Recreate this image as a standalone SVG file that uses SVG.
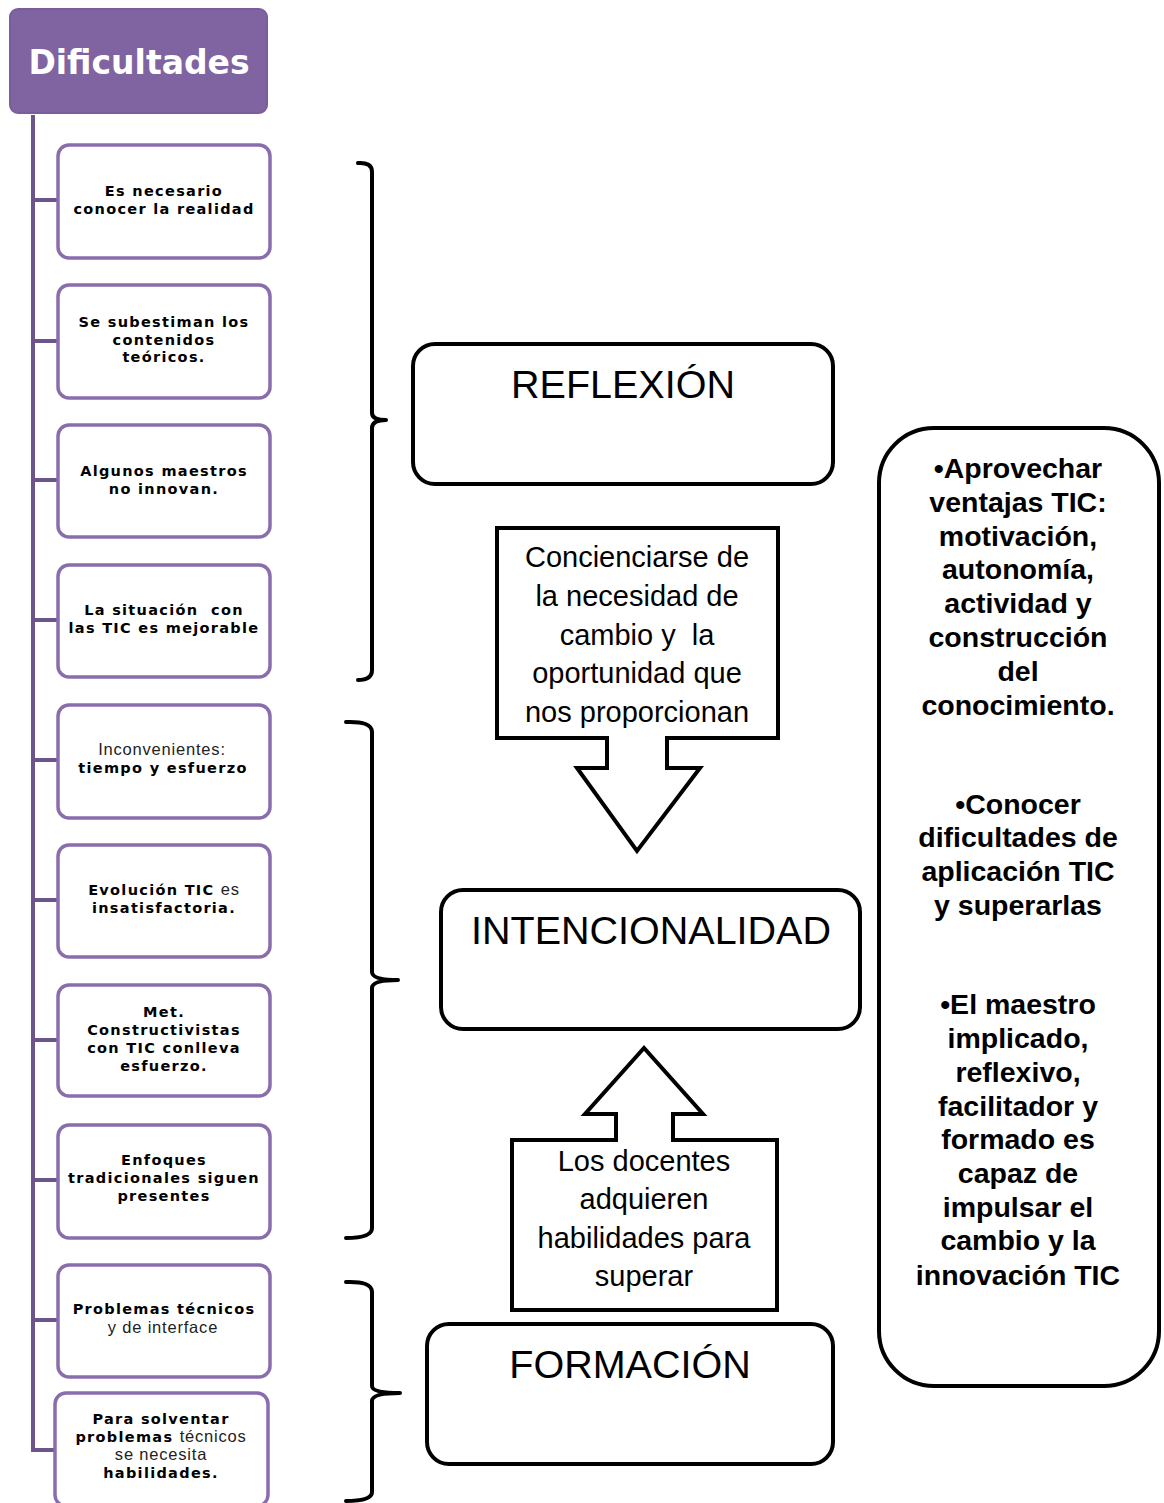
<svg xmlns="http://www.w3.org/2000/svg" width="1164" height="1503" viewBox="0 0 1164 1503">
  <style>
    .hdr { fill: #8064a2; stroke: #7a5e9c; stroke-width: 2; }
    .hdr-t { font-family: "DejaVu Sans", Verdana, sans-serif; font-weight: bold; font-size: 33px; fill: #ffffff; text-anchor: middle; }
    .item { fill: #ffffff; stroke: #8a6dad; stroke-width: 3.5; }
    .item-t { font-family: "DejaVu Sans", Verdana, sans-serif; font-weight: bold; font-size: 14.5px; letter-spacing: 1.3px; fill: #000000; text-anchor: middle; white-space: pre; }
    .thin { font-weight: normal; font-family: "Liberation Sans", Arial, sans-serif; font-size: 16.5px; letter-spacing: 0.8px; fill: #222222; }
    .tree { stroke: #6c5588; stroke-width: 4; fill: none; }
    .brace { stroke: #000000; stroke-width: 4; fill: none; stroke-linecap: round; stroke-linejoin: round; }
    .stage { fill: #ffffff; stroke: #000000; stroke-width: 4; }
    .stage-t { font-family: "Liberation Sans", Arial, sans-serif; font-size: 39.5px; fill: #000000; text-anchor: middle; }
    .call { fill: #ffffff; stroke: #000000; stroke-width: 4; stroke-linejoin: miter; }
    .call-t { font-family: "Liberation Sans", Arial, sans-serif; font-size: 29px; fill: #000000; text-anchor: middle; white-space: pre; }
    .side-t { font-family: "Liberation Sans", Arial, sans-serif; font-weight: bold; font-size: 28.5px; fill: #000000; text-anchor: middle; }
  </style>

  <!-- tree trunk and branches -->
  <g id="connectors">
    <path class="tree" d="M33,115 V1452"/>
    <path class="tree" d="M31,200 H58 M31,341 H58 M31,480 H58 M31,620 H58 M31,760 H58 M31,900 H58 M31,1040 H58 M31,1180 H58 M31,1320 H58 M31,1450 H56"/>
    <!-- braces grouping the difficulties -->
    <path class="brace" d="M358,163 Q372,162 372,172 V413 Q372,420 386,420 Q372,420 372,428 V670 Q372,680 358,680"/>
    <path class="brace" d="M346,722 Q372,721 372,732 V972 Q372,980 398,980 Q372,980 372,988 V1228 Q372,1238 346,1238"/>
    <path class="brace" d="M346,1282 Q372,1281 372,1292 V1386 Q372,1393 400,1393 Q372,1393 372,1401 V1492 Q372,1501 346,1501"/>
  </g>

  <!-- heading -->
  <g id="dificultades">
    <rect class="hdr" x="10" y="9" width="257" height="104" rx="8"/>
    <text class="hdr-t" x="139" y="74">Dificultades</text>
  </g>

  <!-- difficulty items -->
  <g id="item-1">
    <rect class="item" x="58" y="145" width="212" height="113" rx="11"/>
    <text class="item-t" x="164" y="196">Es necesario</text>
    <text class="item-t" x="164" y="214">conocer la realidad</text>
  </g>
  <g id="item-2">
    <rect class="item" x="58" y="285" width="212" height="113" rx="11"/>
    <text class="item-t" x="164" y="327">Se subestiman los</text>
    <text class="item-t" x="164" y="345">contenidos</text>
    <text class="item-t" x="164" y="362">teóricos.</text>
  </g>
  <g id="item-3">
    <rect class="item" x="58" y="425" width="212" height="112" rx="11"/>
    <text class="item-t" x="164" y="476">Algunos maestros</text>
    <text class="item-t" x="164" y="494">no innovan.</text>
  </g>
  <g id="item-4">
    <rect class="item" x="58" y="565" width="212" height="112" rx="11"/>
    <text class="item-t" x="164" y="615">La situación  con</text>
    <text class="item-t" x="164" y="633">las TIC es mejorable</text>
  </g>
  <g id="item-5">
    <rect class="item" x="58" y="705" width="212" height="113" rx="11"/>
    <text class="item-t thin" x="162" y="755">Inconvenientes:</text>
    <text class="item-t" x="163" y="773">tiempo y esfuerzo</text>
  </g>
  <g id="item-6">
    <rect class="item" x="58" y="845" width="212" height="112" rx="11"/>
    <text class="item-t" x="164" y="895">Evolución TIC <tspan class="thin">es</tspan></text>
    <text class="item-t" x="164" y="913">insatisfactoria.</text>
  </g>
  <g id="item-7">
    <rect class="item" x="58" y="985" width="212" height="111" rx="11"/>
    <text class="item-t" x="164" y="1017">Met.</text>
    <text class="item-t" x="164" y="1035">Constructivistas</text>
    <text class="item-t" x="164" y="1053">con TIC conlleva</text>
    <text class="item-t" x="164" y="1071">esfuerzo.</text>
  </g>
  <g id="item-8">
    <rect class="item" x="58" y="1125" width="212" height="113" rx="11"/>
    <text class="item-t" x="164" y="1165">Enfoques</text>
    <text class="item-t" x="164" y="1183">tradicionales siguen</text>
    <text class="item-t" x="164" y="1201">presentes</text>
  </g>
  <g id="item-9">
    <rect class="item" x="58" y="1265" width="212" height="112" rx="11"/>
    <text class="item-t" x="164" y="1314">Problemas técnicos</text>
    <text class="item-t thin" x="163" y="1333">y de interface</text>
  </g>
  <g id="item-10">
    <rect class="item" x="55" y="1393" width="213" height="113" rx="11"/>
    <text class="item-t" x="161" y="1424">Para solventar</text>
    <text class="item-t" x="161" y="1442">problemas <tspan class="thin">técnicos</tspan></text>
    <text class="item-t thin" x="161" y="1460">se necesita</text>
    <text class="item-t" x="161" y="1478">habilidades.</text>
  </g>

  <!-- stages -->
  <g id="reflexion">
    <rect class="stage" x="413" y="344" width="420" height="140" rx="22"/>
    <text class="stage-t" x="623" y="398">REFLEXIÓN</text>
  </g>
  <g id="intencionalidad">
    <rect class="stage" x="441" y="890" width="419" height="139" rx="22"/>
    <text class="stage-t" x="651" y="944">INTENCIONALIDAD</text>
  </g>
  <g id="formacion">
    <rect class="stage" x="427" y="1324" width="406" height="140" rx="22"/>
    <text class="stage-t" x="630" y="1378">FORMACIÓN</text>
  </g>

  <!-- callout arrows -->
  <g id="concienciarse">
    <path class="call" d="M497,528 H778 V738 H667 V768 H700 L637,851 L577,768 H607 V738 H497 Z"/>
    <text class="call-t" x="637" y="567">Concienciarse de</text>
    <text class="call-t" x="637" y="606">la necesidad de</text>
    <text class="call-t" x="637" y="645">cambio y  la</text>
    <text class="call-t" x="637" y="683">oportunidad que</text>
    <text class="call-t" x="637" y="722">nos proporcionan</text>
  </g>
  <g id="docentes">
    <path class="call" d="M512,1310 V1140 H616 V1114 H585 L644,1048 L703,1114 H673 V1140 H777 V1310 Z"/>
    <text class="call-t" x="644" y="1171">Los docentes</text>
    <text class="call-t" x="644" y="1209">adquieren</text>
    <text class="call-t" x="644" y="1248">habilidades para</text>
    <text class="call-t" x="644" y="1286">superar</text>
  </g>

  <!-- outcomes -->
  <g id="objetivos">
    <rect class="stage" x="879" y="428" width="280" height="958" rx="55"/>
    <text class="side-t" x="1018" y="478">•Aprovechar</text>
    <text class="side-t" x="1018" y="512">ventajas TIC:</text>
    <text class="side-t" x="1018" y="546">motivación,</text>
    <text class="side-t" x="1018" y="579">autonomía,</text>
    <text class="side-t" x="1018" y="613">actividad y</text>
    <text class="side-t" x="1018" y="647">construcción</text>
    <text class="side-t" x="1018" y="681">del</text>
    <text class="side-t" x="1018" y="715">conocimiento.</text>
    <text class="side-t" x="1018" y="814">•Conocer</text>
    <text class="side-t" x="1018" y="847">dificultades de</text>
    <text class="side-t" x="1018" y="881">aplicación TIC</text>
    <text class="side-t" x="1018" y="915">y superarlas</text>
    <text class="side-t" x="1018" y="1014">•El maestro</text>
    <text class="side-t" x="1018" y="1048">implicado,</text>
    <text class="side-t" x="1018" y="1082">reflexivo,</text>
    <text class="side-t" x="1018" y="1116">facilitador y</text>
    <text class="side-t" x="1018" y="1149">formado es</text>
    <text class="side-t" x="1018" y="1183">capaz de</text>
    <text class="side-t" x="1018" y="1217">impulsar el</text>
    <text class="side-t" x="1018" y="1250">cambio y la</text>
    <text class="side-t" x="1018" y="1285">innovación TIC</text>
  </g>
</svg>
